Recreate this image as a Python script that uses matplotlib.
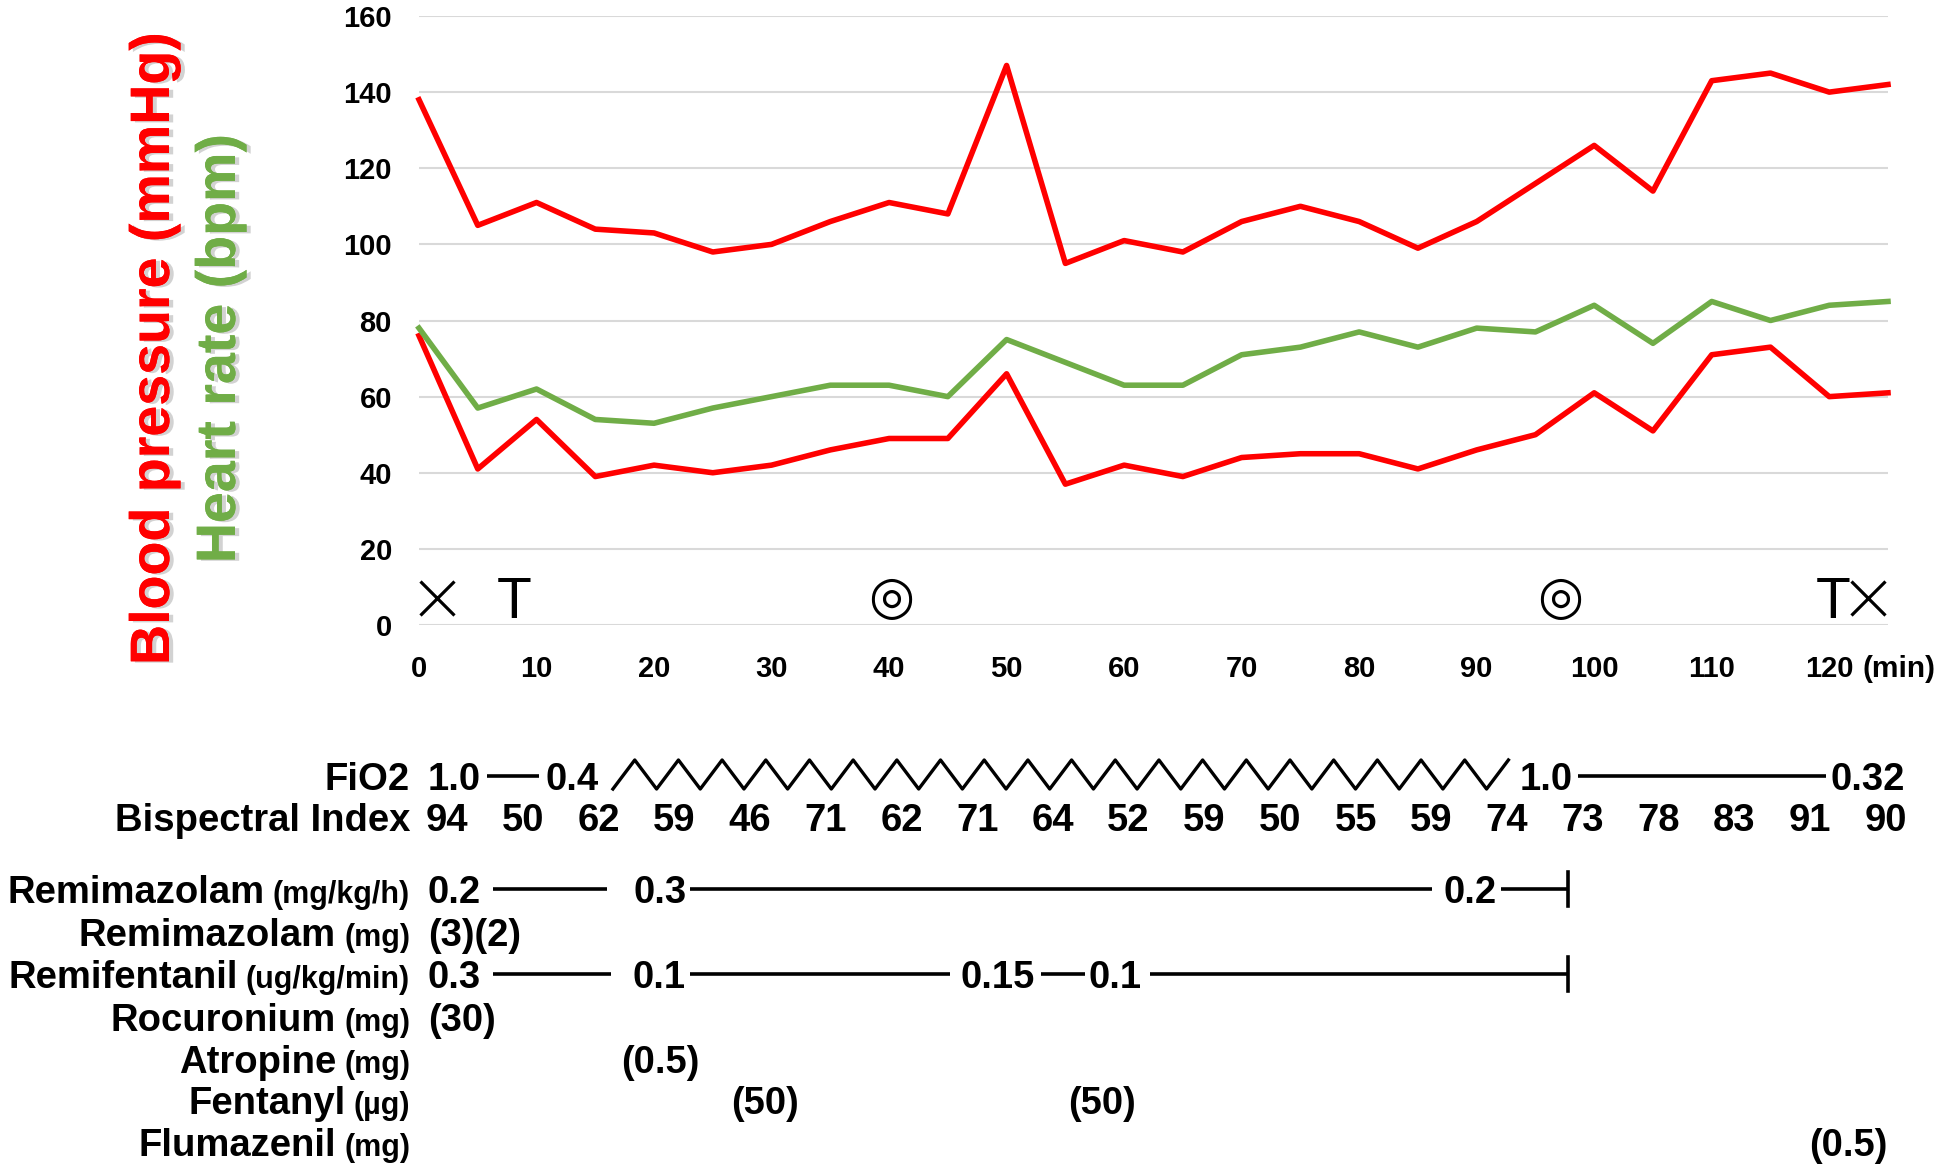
import numpy as np
import matplotlib
matplotlib.use("Agg")
import matplotlib.pyplot as plt
from matplotlib import transforms
from matplotlib import patheffects as pe

plt.rcParams['font.family'] = ['Liberation Sans', 'DejaVu Sans']

# vital signs, every 5 min
minutes = [0, 5, 10, 15, 20, 25, 30, 35, 40, 45, 50, 55, 60, 65, 70, 75, 80, 85, 90, 95, 100, 105, 110, 115, 120, 125]
sbp = [138, 105, 111, 104, 103, 98, 100, 106, 111, 108, 147, 95, 101, 98, 106, 110, 106, 99, 106, 116, 126, 114, 143, 145, 140, 142]
dbp = [76, 41, 54, 39, 42, 40, 42, 46, 49, 49, 66, 37, 42, 39, 44, 45, 45, 41, 46, 50, 61, 51, 71, 73, 60, 61]
hr = [78, 57, 62, 54, 53, 57, 60, 63, 63, 60, 75, 69, 63, 63, 71, 73, 77, 73, 78, 77, 84, 74, 85, 80, 84, 85]

# events on the time line (min)
event_t = [1.5, 8.1, 40.2, 97.1, 120.3, 123.3]
event_sym = ['×', 'T', '◎', '◎', 'T', '×']

# table under the chart
bis = [94, 50, 62, 59, 46, 71, 62, 71, 64, 52, 59, 50, 55, 59, 74, 73, 78, 83, 91, 90]
row_names = ['FiO2', 'Bispectral Index', 'Remimazolam', 'Remimazolam', 'Remifentanil',
             'Rocuronium', 'Atropine', 'Fentanyl', 'Flumazenil']
row_units = ['', '', '(mg/kg/h)', '(mg)', '(ug/kg/min)', '(mg)', '(mg)', '(µg)', '(mg)']

fio2 = ['1.0', '0.4', '1.0', '0.32']
fio2_t = [3.0, 13.0, 95.9, 123.3]
remimazolam_rate = ['0.2', '0.3', '0.2']
remimazolam_rate_t = [3.0, 20.5, 89.4]
remimazolam_bolus = ['(3)(2)']
remimazolam_bolus_t = [4.7]
remifentanil_rate = ['0.3', '0.1', '0.15', '0.1']
remifentanil_rate_t = [3.0, 20.4, 49.2, 59.2]
rocuronium = ['(30)']
rocuronium_t = [3.7]
atropine = ['(0.5)']
atropine_t = [20.5]
fentanyl = ['(50)', '(50)']
fentanyl_t = [29.4, 58.1]
flumazenil = ['(0.5)']
flumazenil_t = [121.6]
infusion_end = 97.8

W, H = 1944, 1165
fig = plt.figure(figsize=(W / 100, H / 100), dpi=100)
ax = fig.add_axes([419 / W, 1 - 625 / H, (1888 - 419) / W, (625 - 16) / H])

ax.plot(minutes, sbp, color='#FF0000', lw=4, clip_on=False)
ax.plot(minutes, dbp, color='#FF0000', lw=4, clip_on=False)
ax.plot(minutes, hr, color='#70AD47', lw=4, clip_on=False)

ax.set_xlim(0, 125)
ax.set_ylim(0, 160)
ax.set_xticks(range(0, 121, 10))
ax.set_yticks(range(0, 161, 20))
ax.grid(axis='y', color='#D9D9D9', lw=1.5)
ax.set_axisbelow(True)
for s in ax.spines.values():
    s.set_visible(False)
ax.tick_params(length=0, labelsize=21)
ax.tick_params(axis='y', pad=19.5)
ax.tick_params(axis='x', pad=21.5)
for lbl in ax.get_xticklabels() + ax.get_yticklabels():
    lbl.set_fontweight('bold')
ax.annotate('(min)', xy=(120, 0), xycoords=('data', 'axes fraction'), xytext=(23.7, -21.5),
            textcoords='offset points', ha='left', va='top', fontsize=21.5, fontweight='bold')

for t, s in zip(event_t, event_sym):
    if s == '×':
        ax.plot(t, 7.1, marker='x', ms=25, mew=2.3, color='black', clip_on=False)
    elif s == 'T':
        ax.text(t, 1.8, s, fontsize=41, ha='center', va='baseline')
    else:
        ax.text(t, 7, s, fontsize=38, ha='center', va='center', family=['DejaVu Sans'])

shadow = [pe.withSimplePatchShadow(offset=(3, -1), shadow_rgbFace='gray', alpha=0.35), pe.Normal()]
fig.text(155 / W, 1 - 349 / H, 'Blood pressure (mmHg)', rotation=90, ha='center', va='center',
         fontsize=40, fontweight='bold', color='#FF0000', path_effects=shadow)
fig.text(221 / W, 1 - 349 / H, 'Heart rate (bpm)', rotation=90, ha='center', va='center',
         fontsize=40, fontweight='bold', color='#70AD47', path_effects=shadow)

# table area in figure pixels (y from top), x shares the time axis
tab = fig.add_axes([0, 0, 1, 1])
tab.set_xlim(0, W)
tab.set_ylim(H, 0)
tab.axis('off')
blend = transforms.blended_transform_factory(ax.transData, tab.transData)

row_y = [776, 817, 889, 932, 974, 1017, 1059, 1100, 1142]
fs = 27.5
base = 0.358 * fs * 100 / 72


def cells(texts, times, y):
    for s, t in zip(texts, times):
        tab.text(t, y + base, s, transform=blend, ha='center', va='baseline',
                 fontsize=fs, fontweight='bold')


def seg(t0, t1, y):
    tab.plot([t0, t1], [y, y], transform=blend, color='black', lw=2.6, solid_capstyle='butt')


def end_bar(t, y):
    tab.plot([t, t], [y - 17, y + 17], transform=blend, color='black', lw=2.6)


renderer = fig.canvas.get_renderer()
for name, unit, y in zip(row_names, row_units, row_y):
    x = 410
    if unit:
        u = tab.text(x, y + base, unit, ha='right', va='baseline', fontsize=22, fontweight='bold')
        x = x - u.get_window_extent(renderer).width - 8
    tab.text(x, y + base, name, ha='right', va='baseline', fontsize=fs, fontweight='bold')

# FiO2
cells(fio2, fio2_t, row_y[0])
seg(5.8, 10.2, row_y[0])
zx = np.linspace(16.5, 92.7, 42)
zy = np.where(np.arange(42) % 2 == 0, 789, 760)
tab.plot(zx, zy, transform=blend, color='black', lw=2.4)
seg(98.6, 119.7, row_y[0])

# Bispectral index
cells([str(v) for v in bis], np.linspace(2.4, 124.8, len(bis)), row_y[1])

# Remimazolam infusion
cells(remimazolam_rate, remimazolam_rate_t, row_y[2])
seg(6.3, 16.0, row_y[2])
seg(23.1, 86.2, row_y[2])
seg(92.1, infusion_end, row_y[2])
end_bar(infusion_end, row_y[2])

cells(remimazolam_bolus, remimazolam_bolus_t, row_y[3])

# Remifentanil infusion
cells(remifentanil_rate, remifentanil_rate_t, row_y[4])
seg(6.3, 16.3, row_y[4])
seg(23.1, 45.2, row_y[4])
seg(52.9, 56.7, row_y[4])
seg(62.2, infusion_end, row_y[4])
end_bar(infusion_end, row_y[4])

cells(rocuronium, rocuronium_t, row_y[5])
cells(atropine, atropine_t, row_y[6])
cells(fentanyl, fentanyl_t, row_y[7])
cells(flumazenil, flumazenil_t, row_y[8])

fig.savefig('out.png', dpi=100)
